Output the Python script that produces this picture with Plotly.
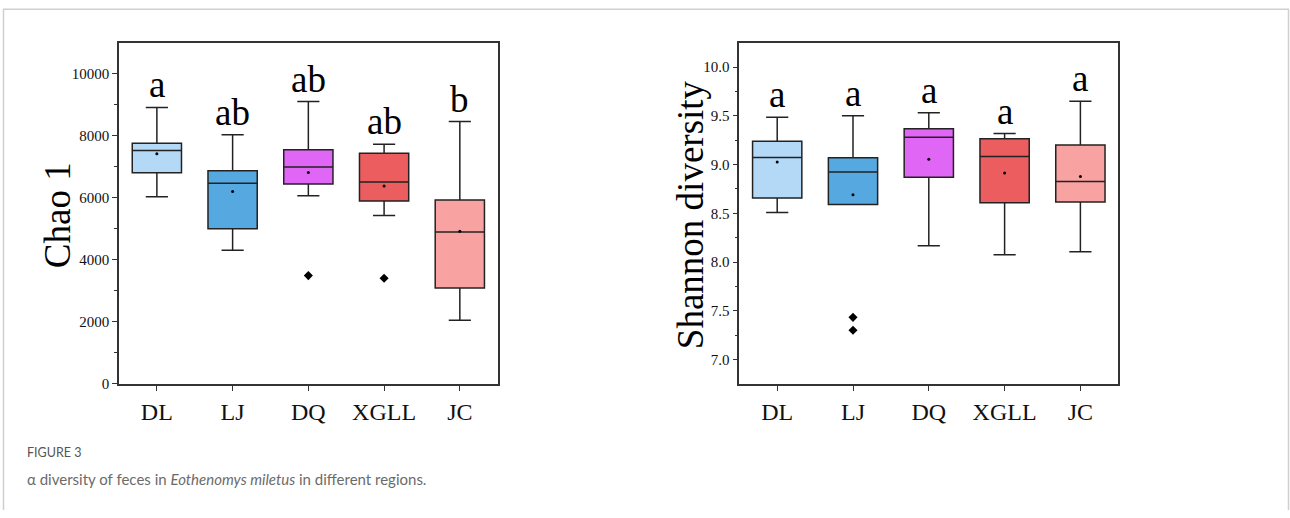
import plotly.graph_objects as go

regions = ["DL", "LJ", "DQ", "XGLL", "JC"]
colors = ["#B3D9F7", "#56A8E0", "#E066F5", "#EB5D5F", "#F8A2A2"]

# Chao 1
chao_low = [6032, 4307, 6063, 5428, 2053]
chao_q1 = [6804, 5005, 6444, 5894, 3090]
chao_med = [7524, 6466, 6995, 6508, 4899]
chao_q3 = [7756, 6868, 7545, 7439, 5926]
chao_high = [8911, 8032, 9101, 7725, 8455]
chao_mean = [7418, 6201, 6815, 6381, 4920]
chao_out_x = ["DQ", "XGLL"]
chao_out_y = [3492, 3407]
chao_letters = ["a", "ab", "ab", "ab", "b"]

# Shannon diversity
sh_low = [8.509, 8.590, 8.168, 8.074, 8.107]
sh_q1 = [8.657, 8.590, 8.870, 8.607, 8.617]
sh_med = [9.072, 8.924, 9.281, 9.082, 8.826]
sh_q3 = [9.238, 9.069, 9.366, 9.265, 9.200]
sh_high = [9.484, 9.501, 9.531, 9.318, 9.649]
sh_mean = [9.025, 8.691, 9.055, 8.914, 8.877]
sh_out_x = ["LJ", "LJ"]
sh_out_y = [7.433, 7.301]
sh_letters = ["a", "a", "a", "a", "a"]

W, H = 1290, 518
SERIF = "Liberation Serif, Times New Roman, serif"
AX = "#333333"

def px(x):
    return x / W

def py(y):
    return 1 - y / H

fig = go.Figure()

def add_panel(xa, ya, low, q1, med, q3, high, mean, ox, oy, letters):
    for i, r in enumerate(regions):
        fig.add_trace(go.Box(
            x=[r], q1=[q1[i]], median=[med[i]], q3=[q3[i]],
            lowerfence=[low[i]], upperfence=[high[i]],
            fillcolor=colors[i], line=dict(color="#222222", width=1.5),
            width=0.65, whiskerwidth=0.45, boxpoints=False,
            xaxis=xa, yaxis=ya, showlegend=False, hoverinfo="skip"))
    fig.add_trace(go.Scatter(
        x=regions, y=mean, mode="markers",
        marker=dict(color="black", size=3),
        xaxis=xa, yaxis=ya, showlegend=False, hoverinfo="skip"))
    fig.add_trace(go.Scatter(
        x=ox, y=oy, mode="markers",
        marker=dict(color="black", size=7, symbol="diamond"),
        xaxis=xa, yaxis=ya, showlegend=False, hoverinfo="skip"))
    for i, r in enumerate(regions):
        fig.add_annotation(
            x=r, y=high[i], xref=xa, yref=ya, text=letters[i],
            showarrow=False, yanchor="bottom", yshift=0,
            font=dict(family=SERIF, size=37, color="black"))

add_panel("x", "y", chao_low, chao_q1, chao_med, chao_q3, chao_high,
          chao_mean, chao_out_x, chao_out_y, chao_letters)
add_panel("x2", "y2", sh_low, sh_q1, sh_med, sh_q3, sh_high,
          sh_mean, sh_out_x, sh_out_y, sh_letters)

ydom = [py(390), py(43.3)]

xcommon = dict(
    type="category", categoryorder="array", categoryarray=regions,
    range=[-0.5, 4.5], showline=True, linecolor=AX, linewidth=1.6,
    mirror=True, ticks="outside", ticklen=5, tickwidth=1.2, tickcolor=AX,
    tickfont=dict(family=SERIF, size=24, color="#111"),
    showgrid=False, zeroline=False)

ycommon = dict(
    showline=True, linecolor=AX, linewidth=1.6, mirror=True,
    ticks="outside", ticklen=5, tickwidth=1.2, tickcolor=AX,
    tickfont=dict(family=SERIF, size=15, color="#111"),
    showgrid=False, zeroline=False)

fig.update_layout(
    width=W, height=H,
    margin=dict(l=0, r=0, t=0, b=0),
    plot_bgcolor="white", paper_bgcolor="white",
    xaxis=dict(xcommon, domain=[px(119), px(497.7)], anchor="y"),
    xaxis2=dict(xcommon, domain=[px(739.3), px(1118.3)], anchor="y2"),
    yaxis=dict(
        ycommon, domain=ydom, anchor="x", range=[0, 11000],
        tickvals=[0, 2000, 4000, 6000, 8000, 10000], tickformat="d",
        minor=dict(tickvals=[1000, 3000, 5000, 7000, 9000],
                   ticks="outside", ticklen=3, tickcolor=AX)),
    yaxis2=dict(
        ycommon, domain=ydom, anchor="x2", range=[6.75, 10.25],
        tickvals=[7.0, 7.5, 8.0, 8.5, 9.0, 9.5, 10.0], tickformat=".1f",
        minor=dict(tickvals=[7.25, 7.75, 8.25, 8.75, 9.25, 9.75],
                   ticks="outside", ticklen=3, tickcolor=AX)),
)

# axis titles
fig.add_annotation(x=px(57), y=py(218.5), xref="paper", yref="paper",
                   text="Chao 1", textangle=-90, showarrow=False,
                   xanchor="center", yanchor="middle",
                   font=dict(family=SERIF, size=37, color="black"))
fig.add_annotation(x=px(690), y=py(217.5), xref="paper", yref="paper",
                   text="Shannon diversity", textangle=-90, showarrow=False,
                   xanchor="center", yanchor="middle",
                   font=dict(family=SERIF, size=37, color="black"))

# card frame
frame = dict(color="#CFCFCF", width=1.5)
fig.add_shape(type="line", xref="paper", yref="paper",
              x0=px(3), x1=px(1289), y0=py(9.5), y1=py(9.5), line=frame)
fig.add_shape(type="line", xref="paper", yref="paper",
              x0=px(3.5), x1=px(3.5), y0=0, y1=py(9.5), line=frame)
fig.add_shape(type="line", xref="paper", yref="paper",
              x0=px(1288.5), x1=px(1288.5), y0=0, y1=py(9.5), line=frame)

# caption
fig.add_annotation(x=px(25), y=py(460), xref="paper", yref="paper",
                   xanchor="left", yanchor="middle", showarrow=False,
                   text="FIGURE 3",
                   font=dict(family="Lato, Open Sans, sans-serif", size=12.5, color="#555555"))
fig.add_annotation(x=px(25), y=py(487), xref="paper", yref="paper",
                   xanchor="left", yanchor="middle", showarrow=False,
                   text="α diversity of feces in <i>Eothenomys miletus</i> in different regions.",
                   font=dict(family="Lato, Open Sans, sans-serif", size=15, color="#6b6b6b"))

fig.write_html("out.html", config={"displayModeBar": False},
               post_script="document.body.style.margin='0';document.body.style.overflow='hidden';")
